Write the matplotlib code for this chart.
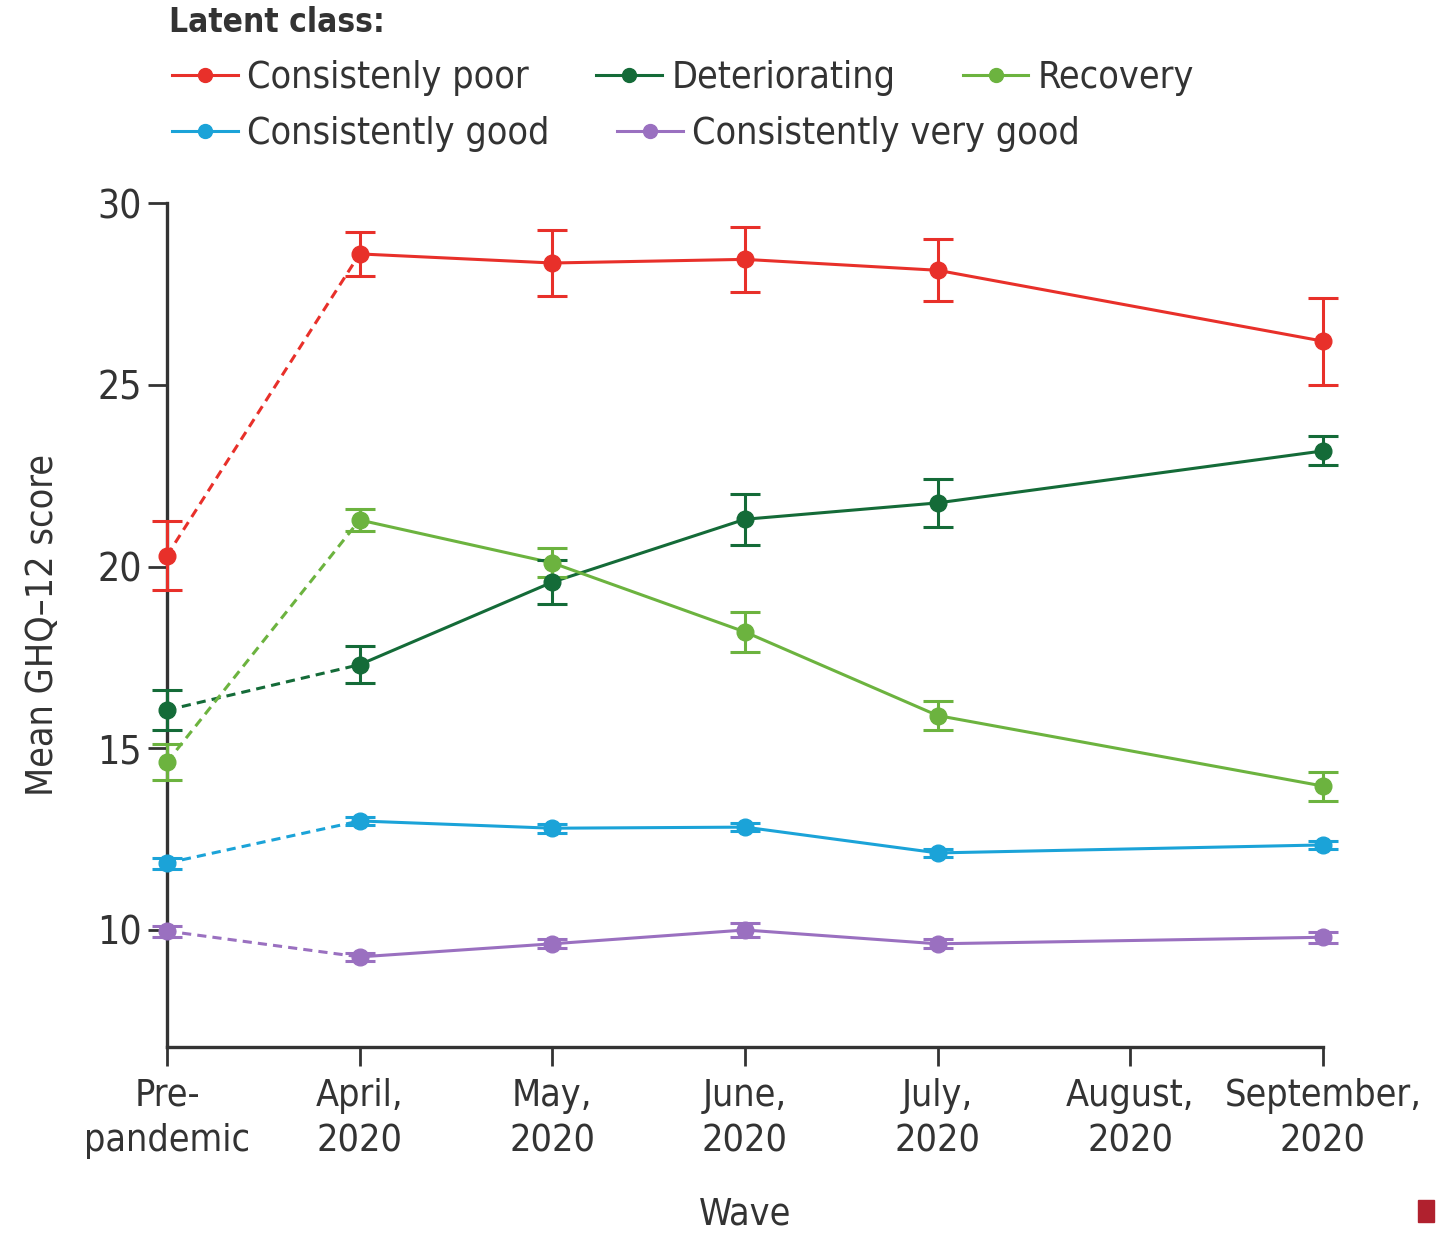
import matplotlib.pyplot as plt
from matplotlib.patches import Rectangle
from matplotlib import font_manager

# use the condensed DejaVu face if it is installed
cond = [f.name for f in font_manager.fontManager.ttflist if f.stretch == 'condensed']
plt.rcParams['font.family'] = ['DejaVu Sans']
if 'DejaVu Sans' in cond:
    plt.rcParams['font.stretch'] = 'condensed'

# x positions: 0 = pre-pandemic, 1..6 = April..September 2020 (no August wave)
waves = ['Pre-\npandemic', 'April,\n2020', 'May,\n2020', 'June,\n2020',
         'July,\n2020', 'August,\n2020', 'September,\n2020']
x_obs = [0, 1, 2, 3, 4, 6]

poor = [20.3, 28.6, 28.35, 28.45, 28.15, 26.2]
poor_err = [0.95, 0.6, 0.9, 0.9, 0.85, 1.2]
deter = [16.05, 17.3, 19.57, 21.3, 21.75, 23.18]
deter_err = [0.55, 0.5, 0.6, 0.7, 0.67, 0.4]
recov = [14.62, 21.28, 20.1, 18.2, 15.9, 13.96]
recov_err = [0.5, 0.3, 0.4, 0.55, 0.4, 0.4]
good = [11.84, 13.0, 12.8, 12.83, 12.12, 12.34]
good_err = [0.15, 0.12, 0.12, 0.12, 0.12, 0.12]
vgood = [9.97, 9.26, 9.62, 10.0, 9.62, 9.8]
vgood_err = [0.15, 0.12, 0.12, 0.18, 0.12, 0.15]

series = [
    ('Consistenly poor', poor, poor_err, '#e8302a'),
    ('Deteriorating', deter, deter_err, '#146b38'),
    ('Recovery', recov, recov_err, '#6cb33f'),
    ('Consistently good', good, good_err, '#1ba3d8'),
    ('Consistently very good', vgood, vgood_err, '#9a70c0'),
]

fig = plt.figure(figsize=(14.47, 12.41), dpi=100)
ax = fig.add_axes([0.1154, 0.1563, 0.7989, 0.6801])

handles = {}
for name, y, err, col in series:
    # dashed link from pre-pandemic to first pandemic wave, solid afterwards
    ax.plot(x_obs[:2], y[:2], ls=(0, (3, 2)), color=col, lw=2.2, clip_on=False)
    ax.plot(x_obs[1:], y[1:], ls='-', color=col, lw=2.2, clip_on=False)
    ax.errorbar(x_obs, y, yerr=err, fmt='o', color=col, ms=12, elinewidth=2.2,
                capsize=11, capthick=2.2, clip_on=False, zorder=3)
    h, = ax.plot([], [], '-o', color=col, lw=2.2, ms=10)
    handles[name] = h

ax.set_xlim(0, 6)
ax.set_ylim(6.78, 30)
ax.set_xticks(range(len(waves)))
ax.set_xticklabels(waves, fontsize=27, color='#333333', linespacing=1.35)
ax.set_yticks([10, 15, 20, 25, 30])
ax.tick_params(axis='y', labelsize=28, labelcolor='#333333', length=14, width=2,
               color='#333333', pad=4)
ax.tick_params(axis='x', length=14, width=2, color='#333333', pad=8)
for s in ['top', 'right']:
    ax.spines[s].set_visible(False)
for s in ['left', 'bottom']:
    ax.spines[s].set_linewidth(2.4)
    ax.spines[s].set_color('#333333')

ax.set_ylabel('Mean GHQ\u201312 score', fontsize=27, color='#333333', labelpad=26)
ax.set_xlabel('Wave', fontsize=27, color='#333333', labelpad=27)

# legend: title + two free rows, as in the reference
fig.text(0.117, 1 - 22 / 1241, 'Latent class:', fontsize=24, fontweight='bold',
         color='#333333', ha='left', va='center')
leg_kw = dict(loc='center left', frameon=False, fontsize=27, borderpad=0,
              borderaxespad=0, handlelength=1.75, handletextpad=0.25,
              columnspacing=1.8, labelcolor='#333333')
row1 = ['Consistenly poor', 'Deteriorating', 'Recovery']
row2 = ['Consistently good', 'Consistently very good']
leg1 = fig.legend([handles[k] for k in row1], row1, ncol=3,
                  bbox_to_anchor=(172 / 1447, 1 - 78 / 1241), **leg_kw)
leg2 = fig.legend([handles[k] for k in row2], row2, ncol=2,
                  bbox_to_anchor=(172 / 1447, 1 - 134 / 1241), **leg_kw)

fig.add_artist(Rectangle((0.980, 0.015), 0.011, 0.018, transform=fig.transFigure,
                         color='#b0212e'))

fig.savefig('out.png', dpi=100)
